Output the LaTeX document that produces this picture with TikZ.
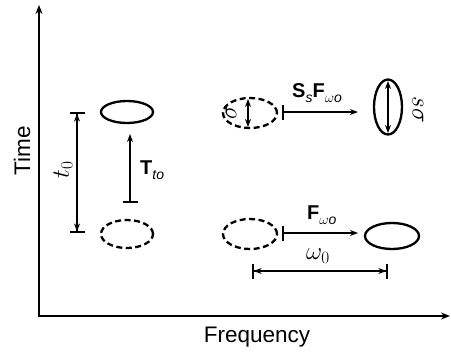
\documentclass[tikz,border=0pt]{standalone}
\usepackage{fontspec}
\setmainfont{Liberation Sans}
\usetikzlibrary{arrows.meta,shapes.geometric}
\tikzset{
  axisline/.style={line width=1.5pt},
  solidell/.style={draw,ellipse,line width=2.3pt,inner sep=0pt},
  dashell/.style={draw,ellipse,line width=2.3pt,inner sep=0pt,dash pattern=on 6pt off 3.5pt},
  conn/.style={line width=1.4pt},
  tip/.tip={Stealth[length=8pt,width=6pt]},
  teetip/.tip={Bar[width=15pt,line width=1.6pt]},
  lbl/.style={inner sep=0pt,font=\fontsize{20}{24}\selectfont},
  biglbl/.style={inner sep=0pt,font=\fontsize{22.5}{26}\selectfont},
  mathlbl/.style={inner sep=0pt,font=\fontsize{23}{27}\selectfont}
}
\begin{document}
\begin{tikzpicture}[x=1pt,y=-1pt]
\useasboundingbox (0,0) rectangle (451,354);
% axes
\coordinate (Ytip) at (39,5);
\coordinate (Xtip) at (450,316);
\draw[axisline,{Stealth[length=9pt,width=7pt]}-{Stealth[length=9pt,width=7pt]}] (Ytip) |- (Xtip);
\node[biglbl,rotate=90] (time) at (22,151) {Time};
\node[biglbl] (freq) at (257,337) {Frequency};
% t0 dimension
\coordinate (t0a) at (77,112);
\coordinate (t0b) at (77,233);
\draw[conn,{teetip[]tip[]}-{tip[]teetip[]}] (t0a) -- (t0b);
\node[mathlbl,rotate=90] (t0lbl) at (63,170) {$t_0$};
% left ellipses
\node[solidell,minimum width=52pt,minimum height=22pt] (E1) at (127,112) {};
\node[dashell,minimum width=52pt,minimum height=28pt] (E2) at (127,234) {};
\coordinate (Tt) at (130,203);
\coordinate (Th) at (130,134);
\draw[conn,teetip-tip] (Tt) -- (Th);
\node[lbl,anchor=west] (Tlbl) at (140,170) {\textbf{T}\raisebox{-5pt}{\fontsize{14}{15}\selectfont\itshape to}};
% middle top
\node[dashell,minimum width=54pt,minimum height=30pt] (E3) at (250,113) {};
\coordinate (s1) at (248,99);
\coordinate (s2) at (248,127);
\draw[conn,tip-tip] (s1) -- (s2);
\node[mathlbl,rotate=90] (siglbl) at (231,112) {$\sigma$};
\coordinate (A1t) at (282,112);
\coordinate (A1h) at (358,112);
\draw[conn,teetip-tip] (A1t) -- (A1h);
\node[lbl,anchor=west] (SFlbl) at (292,93) {\textbf{S}\raisebox{-5pt}{\fontsize{14}{15}\selectfont\itshape s}\textbf{F}\raisebox{-5pt}{\fontsize{14}{15}\selectfont$\omega$\itshape o}};
\node[solidell,minimum width=28pt,minimum height=55pt] (E4) at (388,107) {};
\coordinate (v1) at (388,81);
\coordinate (v2) at (388,133);
\draw[conn,tip-tip] (v1) -- (v2);
\node[mathlbl,rotate=-90] (ssig) at (418,110) {$s\sigma$};
% bottom row
\node[dashell,minimum width=54pt,minimum height=30pt] (E5) at (250,234) {};
\coordinate (A2t) at (282,233);
\coordinate (A2h) at (358,233);
\draw[conn,teetip-tip] (A2t) -- (A2h);
\node[lbl,anchor=west] (Flbl) at (307,215) {\textbf{F}\raisebox{-5pt}{\fontsize{14}{15}\selectfont$\omega$\itshape o}};
\node[solidell,minimum width=54pt,minimum height=26pt] (E6) at (392,236) {};
\coordinate (w1) at (252,271);
\coordinate (w2) at (388,271);
\draw[conn,{teetip[]tip[]}-{tip[]teetip[]}] (w1) -- (w2);
\node[mathlbl] (w0lbl) at (318,256) {$\omega_0$};
\end{tikzpicture}
\end{document}
